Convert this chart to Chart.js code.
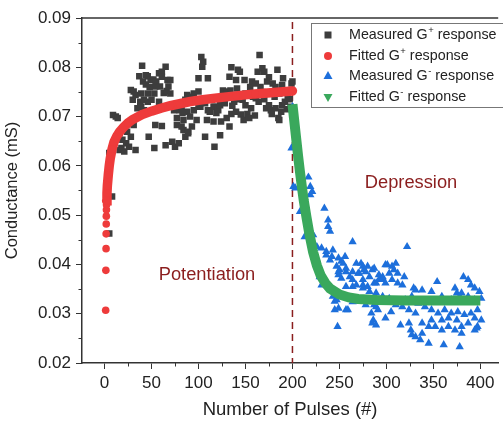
<!DOCTYPE html>
<html>
<head>
<meta charset="utf-8">
<script src="https://cdn.jsdelivr.net/npm/chart.js@4/dist/chart.umd.min.js"></script>
<style>
html, body { margin: 0; padding: 0; background: #fff; overflow: hidden; }
</style>
</head>
<body>
<canvas id="chart" width="503" height="424"></canvas>
<script>
// measured G+ (potentiation)
const measPosX = [5,8,5,9,12,14,16,16,18,19,21,23,24,26,28,28,30,31,31,33,
  33,35,37,38,39,39,40,41,42,42,44,44,46,46,46,47,48,49,50,52,
  53,53,54,54,55,58,58,59,61,61,61,63,65,65,66,67,68,70,70,72,
  74,75,77,77,79,80,82,82,83,84,84,86,86,88,88,89,89,91,91,93,
  95,95,96,98,100,100,100,102,103,104,105,107,107,109,110,110,112,114,116,116,
  117,117,119,121,123,123,124,126,126,128,130,130,131,133,133,134,135,135,136,138,
  140,140,140,141,142,143,144,145,147,148,149,150,150,152,154,155,156,157,158,160,
  161,161,163,164,165,166,168,168,170,170,172,173,175,175,177,178,179,179,181,182,
  182,184,185,186,186,188,189,189,190,192,194,195,197,198,199,200]
const measPosY = [0.0463,0.0538,0.0626,0.0703,0.0700,0.0697,0.0632,0.0666,0.0636,0.0653,0.0629,0.0646,0.0669,0.0639,0.0659,0.0754,0.0734,0.0683,0.0751,0.0632,
  0.0744,0.0717,0.0782,0.0730,0.0747,0.0720,0.0803,0.0771,0.0713,0.0734,0.0765,0.0784,0.0782,0.0747,0.0730,0.0659,0.0760,0.0774,0.0734,0.0775,
  0.0636,0.0747,0.0761,0.0683,0.0771,0.0788,0.0730,0.0761,0.0791,0.0681,0.0781,0.0748,0.0801,0.0642,0.0752,0.0774,0.0761,0.0774,0.0747,0.0649,
  0.0713,0.0639,0.0697,0.0683,0.0646,0.0713,0.0720,0.0680,0.0707,0.0693,0.0673,0.0659,0.0734,0.0710,0.0744,0.0666,0.0669,0.0700,0.0740,0.0680,
  0.0713,0.0747,0.0734,0.0693,0.0720,0.0778,0.0751,0.0720,0.0821,0.0801,0.0811,0.0727,0.0659,0.0693,0.0778,0.0713,0.0710,0.0734,0.0720,0.0690,
  0.0639,0.0720,0.0707,0.0713,0.0723,0.0662,0.0690,0.0734,0.0753,0.0727,0.0751,0.0697,0.0740,0.0781,0.0680,0.0753,0.0705,0.0800,0.0722,0.0730,
  0.0774,0.0710,0.0737,0.0757,0.0795,0.0735,0.0791,0.0704,0.0734,0.0693,0.0774,0.0747,0.0723,0.0705,0.0697,0.0760,0.0717,0.0771,0.0740,0.0702,
  0.0767,0.0737,0.0791,0.0730,0.0825,0.0760,0.0798,0.0750,0.0791,0.0735,0.0717,0.0771,0.0723,0.0780,0.0713,0.0705,0.0767,0.0750,0.0740,0.0717,
  0.0760,0.0795,0.0697,0.0747,0.0693,0.0710,0.0764,0.0723,0.0778,0.0730,0.0715,0.0742,0.0735,0.0720,0.0767,0.0771]

// fitted G+ curve
const fitPosX = [1.2,1.4,1.6,1.7,1.8,1.9,2.0,2.1,2.2,2.6,3,4,5,6,8,10,13,16,20,25,30,40,50,60,70,80,90,100,120,140,160,180,200]
const fitPosY = [0.0307,0.0388,0.0432,0.0462,0.0482,0.0498,0.0511,0.0521,0.0529,0.0545,0.0560,0.0582,0.0600,0.0614,0.0634,0.0648,0.0660,0.0669,0.0678,0.0687,0.0694,0.0704,0.0711,0.0717,0.0722,0.0726,0.0730,0.0733,0.0738,0.0742,0.0746,0.0749,0.0752]

// measured G- (depression)
const measNegX = [200,201,199,202,203,205,208,210,213,214,217,219,219,221,222,226,226,229,231,231,
  234,236,236,238,238,240,240,242,243,243,245,245,247,247,248,249,249,249,249,250,
  252,252,254,256,257,257,257,257,259,259,261,264,264,264,264,264,268,268,268,270,
  271,273,275,275,275,275,276,278,278,280,280,280,282,282,284,285,285,286,287,287,
  287,289,289,289,289,291,292,292,296,296,296,299,299,299,301,303,303,305,306,306,
  308,310,310,312,312,315,317,317,319,320,322,324,324,326,327,327,329,331,331,331,
  334,336,338,338,338,341,345,345,348,348,348,352,354,355,355,359,359,359,361,362,
  366,366,369,369,373,373,375,375,376,378,378,380,380,380,382,383,387,387,387,390,
  390,394,394,394,394,396,397,397,399,401,401]
const measNegY = [0.0720,0.0558,0.0636,0.0680,0.0555,0.0640,0.0507,0.0570,0.0456,0.0520,0.0577,0.0558,0.0541,0.0548,0.0460,0.0436,0.0410,0.0375,0.0433,0.0358,
  0.0514,0.0426,0.0419,0.0490,0.0477,0.0467,0.0409,0.0416,0.0429,0.0335,0.0325,0.0308,0.0396,0.0328,0.0274,0.0413,0.0385,0.0379,0.0311,0.0389,
  0.0406,0.0372,0.0402,0.0416,0.0385,0.0392,0.0355,0.0308,0.0331,0.0308,0.0375,0.0446,0.0385,0.0355,0.0369,0.0324,0.0402,0.0358,0.0325,0.0382,
  0.0382,0.0402,0.0396,0.0358,0.0352,0.0369,0.0389,0.0385,0.0318,0.0396,0.0355,0.0328,0.0345,0.0375,0.0301,0.0389,0.0281,0.0287,0.0362,0.0392,
  0.0318,0.0277,0.0314,0.0342,0.0362,0.0308,0.0369,0.0379,0.0375,0.0369,0.0335,0.0399,0.0362,0.0291,0.0399,0.0382,0.0331,0.0304,0.0396,0.0369,
  0.0389,0.0402,0.0318,0.0382,0.0362,0.0277,0.0358,0.0314,0.0375,0.0328,0.0436,0.0281,0.0308,0.0267,0.0335,0.0257,0.0352,0.0253,0.0301,0.0348,
  0.0321,0.0247,0.0260,0.0281,0.0348,0.0314,0.0274,0.0240,0.0308,0.0287,0.0345,0.0274,0.0365,0.0301,0.0325,0.0267,0.0287,0.0335,0.0237,0.0308,
  0.0274,0.0291,0.0301,0.0328,0.0267,0.0352,0.0287,0.0342,0.0304,0.0335,0.0233,0.0274,0.0260,0.0342,0.0375,0.0298,0.0281,0.0369,0.0335,0.0358,
  0.0301,0.0291,0.0352,0.0267,0.0328,0.0271,0.0308,0.0274,0.0345,0.0287,0.0331]

// fitted G- curve
const fitNegX = [200,202,204,206,208,210,212,215,218,222,226,230,235,240,250,260,270,290,320,360,400]
const fitNegY = [0.0725,0.0690,0.0655,0.0620,0.0588,0.0558,0.0530,0.0495,0.0462,0.0425,0.0398,0.0378,0.0362,0.0351,0.0339,0.0333,0.0330,0.0328,0.0327,0.0327,0.0327]

const legendLabels = [['Measured G', '+', ' response'], ['Fitted G', '+', ' response'],
                      ['Measured G', '-', ' response'], ['Fitted G', '-', ' response']]

const FONT = "'Liberation Sans', Arial, sans-serif"
const GRAY = '#3d3d3d', RED = '#ee3b3b', BLUE = '#1d6fdb', GREEN = '#3aa85c', DARKRED = '#8b1e1e'
const AXIS = '#333'

function pts(xs, ys){
  return xs.map((x, i) => ({x: x, y: ys[i]}))
}

function marker(ctx, kind, x, y){
  ctx.beginPath()
  if (kind == 0){
    ctx.fillStyle = GRAY
    ctx.rect(x - 3.5, y - 3.5, 7, 7)
  } else if (kind == 1){
    ctx.fillStyle = RED
    ctx.arc(x, y, 4, 0, Math.PI * 2)
  } else if (kind == 2){
    ctx.fillStyle = BLUE
    ctx.moveTo(x, y - 5); ctx.lineTo(x + 4.5, y + 3); ctx.lineTo(x - 4.5, y + 3)
  } else {
    ctx.fillStyle = GREEN
    ctx.moveTo(x, y + 5); ctx.lineTo(x + 4.5, y - 3); ctx.lineTo(x - 4.5, y - 3)
  }
  ctx.closePath()
  ctx.fill()
}

const extras = {
  id: 'extras',
  beforeDatasetsDraw(chart){
    const {ctx, chartArea: a, scales: {x}} = chart
    const px = x.getPixelForValue(200)
    ctx.save()
    ctx.strokeStyle = DARKRED
    ctx.lineWidth = 1.5
    ctx.setLineDash([7, 5])
    ctx.beginPath(); ctx.moveTo(px, a.top + 4); ctx.lineTo(px, a.bottom); ctx.stroke()
    ctx.restore()
  },
  afterDraw(chart){
    const {ctx, chartArea: a, scales: {x, y}} = chart
    ctx.save()
    // top frame line
    ctx.strokeStyle = AXIS
    ctx.lineWidth = 1.5
    ctx.beginPath(); ctx.moveTo(a.left, a.top); ctx.lineTo(a.right, a.top); ctx.stroke()
    // minor ticks
    ctx.lineWidth = 1
    ctx.beginPath()
    for (let v = 25; v < 420; v += 50){
      const p = Math.round(x.getPixelForValue(v)) + 0.5
      ctx.moveTo(p, a.bottom); ctx.lineTo(p, a.bottom + 3.5)
    }
    for (let v = 0.025; v < 0.09; v += 0.01){
      const p = Math.round(y.getPixelForValue(v)) + 0.5
      ctx.moveTo(a.left, p); ctx.lineTo(a.left - 3.5, p)
    }
    ctx.stroke()

    // region labels
    ctx.fillStyle = DARKRED
    ctx.font = '18.3px ' + FONT
    ctx.textAlign = 'center'
    ctx.textBaseline = 'middle'
    ctx.fillText('Potentiation', 207, 275)
    ctx.fillText('Depression', 411, 183)

    // legend box
    const lx = 311, ly = 23, lw = 193, lh = 84
    ctx.fillStyle = '#fff'
    ctx.fillRect(lx, ly, lw, lh)
    ctx.strokeStyle = '#777'
    ctx.lineWidth = 1
    ctx.strokeRect(lx + 0.5, ly + 0.5, lw, lh)
    const rows = [35, 56, 76, 97]
    ctx.textAlign = 'left'
    legendLabels.forEach((parts, i) => {
      const ry = rows[i]
      marker(ctx, i, 328, ry)
      ctx.fillStyle = '#222'
      ctx.font = '14.3px ' + FONT
      let tx = 349
      ctx.fillText(parts[0], tx, ry)
      tx += ctx.measureText(parts[0]).width
      ctx.font = '9.5px ' + FONT
      ctx.fillText(parts[1], tx + 0.5, ry - 5)
      tx += ctx.measureText(parts[1]).width + 0.5
      ctx.font = '14.3px ' + FONT
      ctx.fillText(parts[2], tx, ry)
    })
    ctx.restore()
  }
}

const ctx = document.getElementById('chart').getContext('2d')
new Chart(ctx, {
  type: 'scatter',
  data: {
    datasets: [{
      label: 'Measured G+ response',
      data: pts(measPosX, measPosY),
      pointStyle: 'rect',
      pointRadius: 4.6,
      backgroundColor: GRAY,
      borderWidth: 0,
      order: 4
    }, {
      label: 'Fitted G+ response',
      data: pts(fitPosX, fitPosY),
      showLine: true,
      borderColor: RED,
      borderWidth: 9.5,
      borderCapStyle: 'round',
      pointRadius: 3.8,
      pointBackgroundColor: RED,
      pointBorderWidth: 0,
      segment: { borderColor: c => c.p0DataIndex < 8 ? 'rgba(0,0,0,0)' : RED },
      order: 3
    }, {
      label: 'Measured G- response',
      data: pts(measNegX, measNegY),
      pointStyle: 'triangle',
      pointRadius: 4.8,
      backgroundColor: BLUE,
      borderWidth: 0,
      order: 2
    }, {
      label: 'Fitted G- response',
      data: pts(fitNegX, fitNegY),
      showLine: true,
      borderColor: GREEN,
      backgroundColor: GREEN,
      borderWidth: 10,
      borderCapStyle: 'butt',
      pointRadius: 0,
      order: 1
    }]
  },
  options: {
    responsive: false,
    animation: false,
    layout: { padding: { top: 18, right: 0, left: 0, bottom: 0 } },
    plugins: { legend: { display: false }, tooltip: { enabled: false } },
    scales: {
      x: {
        type: 'linear',
        min: -24,
        max: 419,
        afterFit: s => { s.height = 61 },
        ticks: { stepSize: 50, includeBounds: false, maxRotation: 0, padding: 4, color: '#222', font: { family: FONT, size: 17 } },
        grid: { drawOnChartArea: false, tickLength: 6, color: AXIS, tickWidth: 1 },
        border: { color: AXIS, width: 1.5 },
        title: { display: true, text: 'Number of Pulses (#)', color: '#222', font: { family: FONT, size: 18.5 }, padding: { top: 0, bottom: 3 } }
      },
      y: {
        min: 0.02,
        max: 0.09,
        afterFit: s => { s.width = 82 },
        ticks: { stepSize: 0.01, includeBounds: false, padding: 5, color: '#222', font: { family: FONT, size: 17 },
                 callback: v => v.toFixed(2) },
        grid: { drawOnChartArea: false, tickLength: 6, color: AXIS, tickWidth: 1 },
        border: { color: AXIS, width: 1.5 },
        title: { display: true, text: 'Conductance (mS)', color: '#222', font: { family: FONT, size: 16.5 }, padding: { top: 3, bottom: 0 } }
      }
    }
  },
  plugins: [extras]
})
</script>
</body>
</html>
